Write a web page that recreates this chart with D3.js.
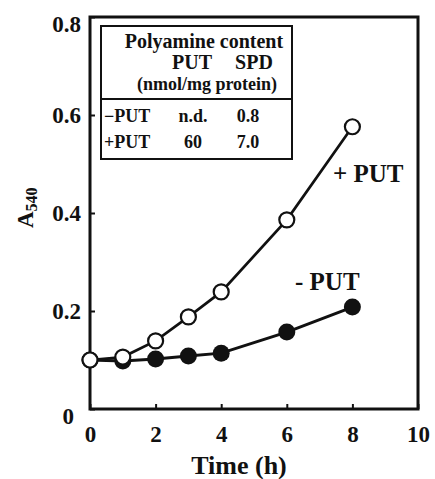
<!DOCTYPE html>
<html>
<head>
<meta charset="utf-8">
<script src="https://cdn.jsdelivr.net/npm/d3@7"></script>
<style>
  html, body { margin: 0; padding: 0; background: #fff; }
  svg { display: block; }
  text { font-family: "Liberation Serif", "Times New Roman", serif; font-weight: bold; fill: #111; }
</style>
</head>
<body>
<script>
// ---- data ----
const timeH = [0, 1, 2, 3, 4, 6, 8];
const plusPUT = [0.100, 0.106, 0.139, 0.188, 0.239, 0.386, 0.576];
const minusPUT = [0.100, 0.098, 0.102, 0.108, 0.114, 0.157, 0.208];
const xTicks = [0, 2, 4, 6, 8, 10];
const yTicks = [0, 0.2, 0.4, 0.6, 0.8];
const yTickLabels = ["0", "0.2", "0.4", "0.6", "0.8"];
const seriesLabels = ["+ PUT", "- PUT"];
const tableTitle = "Polyamine content";
const tableCols = ["PUT", "SPD"];
const tableUnit = "(nmol/mg protein)";
const tableRows = ["\u2212PUT", "+PUT"];
const putContent = ["n.d.", "60"];
const spdContent = ["0.8", "7.0"];

const W = 435, H = 479;
const svg = d3.select("body").append("svg").attr("width", W).attr("height", H);

const x = d3.scaleLinear().domain([0, 10]).range([90, 418]);
const y = d3.scaleLinear().domain([0, 0.8]).range([409, 17]);

// frame
svg.append("rect")
  .attr("x", x(0)).attr("y", y(0.8))
  .attr("width", x(10) - x(0)).attr("height", y(0) - y(0.8))
  .attr("fill", "none").attr("stroke", "#111").attr("stroke-width", 3);

// x axis
const gx = svg.append("g").attr("transform", `translate(0,${y(0)})`)
  .call(d3.axisBottom(x).tickValues(xTicks).tickSizeInner(-5).tickSizeOuter(0).tickPadding(17).tickFormat(d3.format("d")));
gx.select(".domain").remove();
gx.selectAll(".tick line").attr("stroke", "#111").attr("stroke-width", 2);
gx.selectAll(".tick text").attr("font-size", 23).attr("fill", "#111")
  .attr("font-family", "Liberation Serif, Times New Roman, serif").attr("font-weight", "bold");

// y axis
const gy = svg.append("g").attr("transform", `translate(${x(0)},0)`)
  .call(d3.axisLeft(y).tickValues(yTicks).tickSizeInner(-5).tickSizeOuter(0).tickPadding(9)
    .tickFormat((d, i) => yTickLabels[i]));
gy.select(".domain").remove();
gy.selectAll(".tick line").attr("stroke", "#111").attr("stroke-width", 2);
gy.selectAll(".tick text").attr("font-size", 23).attr("fill", "#111")
  .attr("font-family", "Liberation Serif, Times New Roman, serif").attr("font-weight", "bold");
// quirks of original label placement
gy.selectAll(".tick text").filter(d => d === 0).attr("dx", -7).attr("dy", "0.62em");
gy.selectAll(".tick text").filter(d => d === 0.8).attr("dy", "0.62em");

// axis titles
svg.append("text").attr("x", 239).attr("y", 474).attr("text-anchor", "middle")
  .attr("font-size", 26).text("Time (h)");
const yl = svg.append("text").attr("transform", "translate(33,228) rotate(-90)")
  .attr("font-size", 23);
yl.append("tspan").text("A");
yl.append("tspan").attr("font-size", 16).attr("dy", 4).text("540");

// lines
const line = d3.line().x((d, i) => x(timeH[i])).y(d => y(d));
svg.append("path").datum(minusPUT).attr("d", line)
  .attr("fill", "none").attr("stroke", "#111").attr("stroke-width", 3);
svg.append("g").selectAll("circle").data(minusPUT).join("circle")
  .attr("cx", (d, i) => x(timeH[i])).attr("cy", d => y(d)).attr("r", 8.5).attr("fill", "#111");

svg.append("path").datum(plusPUT).attr("d", line)
  .attr("fill", "none").attr("stroke", "#111").attr("stroke-width", 2.7);
svg.append("g").selectAll("circle").data(plusPUT).join("circle")
  .attr("cx", (d, i) => x(timeH[i])).attr("cy", d => y(d)).attr("r", 7.5)
  .attr("fill", "#fff").attr("stroke", "#111").attr("stroke-width", 2.2);

// series labels
svg.append("text").attr("x", 333).attr("y", 182).attr("font-size", 25).text(seriesLabels[0]);
svg.append("text").attr("x", 295).attr("y", 290).attr("font-size", 25).text(seriesLabels[1]);

// inset table
const tb = svg.append("g");
tb.append("rect").attr("x", 101).attr("y", 26).attr("width", 191).attr("height", 133)
  .attr("fill", "#fff").attr("stroke", "#111").attr("stroke-width", 2);
tb.append("line").attr("x1", 101).attr("x2", 292).attr("y1", 99).attr("y2", 99)
  .attr("stroke", "#111").attr("stroke-width", 2);
tb.append("text").attr("x", 204).attr("y", 48).attr("text-anchor", "middle").attr("font-size", 20).text(tableTitle);
const colX = [192, 254];
tb.selectAll(".colh").data(tableCols).join("text").attr("class", "colh")
  .attr("x", (d, i) => colX[i]).attr("y", 69).attr("text-anchor", "middle").attr("font-size", 20).text(d => d);
tb.append("text").attr("x", 207).attr("y", 90).attr("text-anchor", "middle").attr("font-size", 18).text(tableUnit);
const rowY = [122, 148];
tb.selectAll(".rowh").data(tableRows).join("text").attr("class", "rowh")
  .attr("x", 104).attr("y", (d, i) => rowY[i]).attr("font-size", 18).text(d => d);
tb.selectAll(".putv").data(putContent).join("text").attr("class", "putv")
  .attr("x", 193).attr("y", (d, i) => rowY[i]).attr("text-anchor", "middle").attr("font-size", 18).text(d => d);
tb.selectAll(".spdv").data(spdContent).join("text").attr("class", "spdv")
  .attr("x", 248).attr("y", (d, i) => rowY[i]).attr("text-anchor", "middle").attr("font-size", 18).text(d => d);
</script>
</body>
</html>
